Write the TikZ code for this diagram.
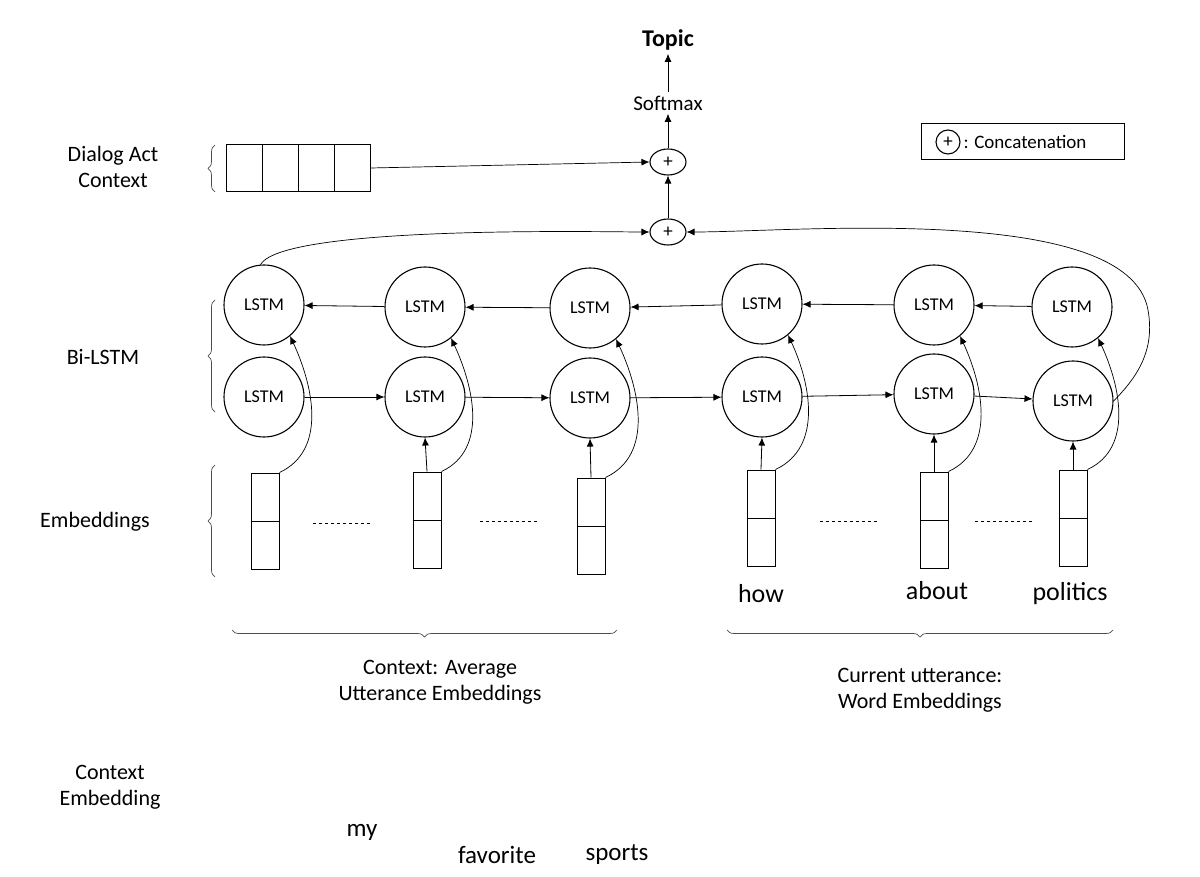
\documentclass[tikz,border=0pt]{standalone}
\usepackage{fontspec}
\setmainfont{Carlito}
\usetikzlibrary{decorations.pathreplacing,arrows.meta,shapes.geometric}
\begin{document}
\begin{tikzpicture}[x=1pt,y=-1pt,
  lstm/.style={draw,line width=1.1pt,circle,minimum size=80pt,inner sep=0pt,font=\fontsize{18}{20}\selectfont},
  emb/.style={draw,line width=1pt,minimum width=28pt,minimum height=96pt,inner sep=0pt},
  plus/.style={draw,line width=1.1pt,ellipse,minimum width=36pt,minimum height=26pt,inner sep=0pt,font=\fontsize{19}{20}\selectfont},
  lbl/.style={font=\fontsize{22}{26}\selectfont,align=center},
  arr/.style={-{Latex[length=8pt,width=7pt]},line width=0.8pt},
  brc/.style={decorate,decoration={brace,amplitude=7pt},line width=0.7pt,draw=black!70}]
\useasboundingbox (0,0) rectangle (1200,877);
\foreach \n/\x/\y in {t1/264/305,t2/425/307,t3/590/308,t4/762/304,t5/934/305,t6/1072/307}
  \node[lstm] (\n) at (\x,\y) {LSTM};
\foreach \n/\x/\y in {b1/264/397,b2/425/397,b3/590/398,b4/762/397,b5/934/394,b6/1073/401}
  \node[lstm] (\n) at (\x,\y) {LSTM};
\foreach \n/\x/\y in {e1/265/521,e2/427/520,e3/591/526,e4/761/518,e5/934/520,e6/1073/518}{
  \node[emb] (\n) at (\x,\y) {};
  \draw[line width=1pt] (\n.west) -- (\n.east);}
\foreach \a/\b/\y in {313/372/523,480/538/521,820/878/521,975/1033/521}
  \draw[dashed,line width=0.7pt] (\a,\y) -- (\b,\y);
\foreach \a/\b in {t2/t1,t3/t2,t4/t3,t5/t4,t6/t5} \draw[arr] (\a) -- (\b);
\foreach \a/\b in {b1/b2,b2/b3,b3/b4,b4/b5,b5/b6} \draw[arr] (\a) -- (\b);
\foreach \i in {2,3,4,5,6} \draw[arr] (e\i.north) -- (b\i.south);
\foreach \i in {1,...,6} \draw[arr,line width=0.7pt] (e\i.north east) to[out=25,in=-65,looseness=1] (t\i.-50);
\node[plus] (p1) at (668,232) {+};
\node[plus] (p2) at (668,162) {+};
\node[font=\fontsize{21}{24}\selectfont] (sm) at (668,103) {Softmax};
\node[font=\bfseries\fontsize{24}{28}\selectfont] (tp) at (668,40) {Topic};
\draw[arr] (p1) -- (p2);
\draw[arr] (p2) -- (sm);
\draw[arr] (sm) -- (tp);
\draw[arr,line width=0.7pt] (t1.95) to[out=60,in=180,looseness=0.3] (p1.west);
\draw[arr,line width=0.7pt] (b6.east) to[out=45,in=-80] (1148,310) to[out=100,in=0,looseness=0.6] (p1.east);
\node[draw,line width=1pt,minimum width=144pt,minimum height=47pt,inner sep=0pt] (da) at (298,168) {};
\foreach \k in {1,2,3} \draw[line width=1pt] (226+36*\k,145) -- (226+36*\k,191);
\draw[arr,line width=0.7pt] (da.east) -- (p2.west);
\node[draw,line width=1pt,minimum width=203pt,minimum height=36pt] (lg) at (1023,142) {};
\node[plus,circle,minimum size=24pt,minimum width=24pt] (lp) at (948,142) {+};
\node[font=\fontsize{19}{22}\selectfont,anchor=west] (lt) at (960,142) {: Concatenation};
\draw[brc] (215,192) -- (215,145);
\draw[brc] (215,412) -- (215,300);
\draw[brc] (215,577) -- (215,465);
\node[lbl] (l1) at (113,167) {Dialog Act\\Context};
\node[lbl] (l2) at (103,357) {Bi-LSTM};
\node[lbl] (l3) at (95,522) {Embeddings};
\node[font=\fontsize{26}{30}\selectfont] (w1) at (761,594) {how};
\node[font=\fontsize{26}{30}\selectfont] (w2) at (937,591) {about};
\node[font=\fontsize{26}{30}\selectfont] (w3) at (1070,594) {politics};
\draw[brc] (617,630) -- (232,630);
\draw[brc] (1113,630) -- (727,630);
\node[lbl] (c1) at (440,682) {Context: Average\\Utterance Embeddings};
\node[lbl] (c2) at (920,690) {Current utterance:\\Word Embeddings};
\node[lbl] (c3) at (110,787) {Context\\Embedding};
\node[font=\fontsize{25}{28}\selectfont] (m1) at (362,832) {my};
\node[font=\fontsize{25}{28}\selectfont] (m2) at (497,855) {favorite};
\node[font=\fontsize{25}{28}\selectfont] (m3) at (617,855) {sports};
\end{tikzpicture}
\end{document}
